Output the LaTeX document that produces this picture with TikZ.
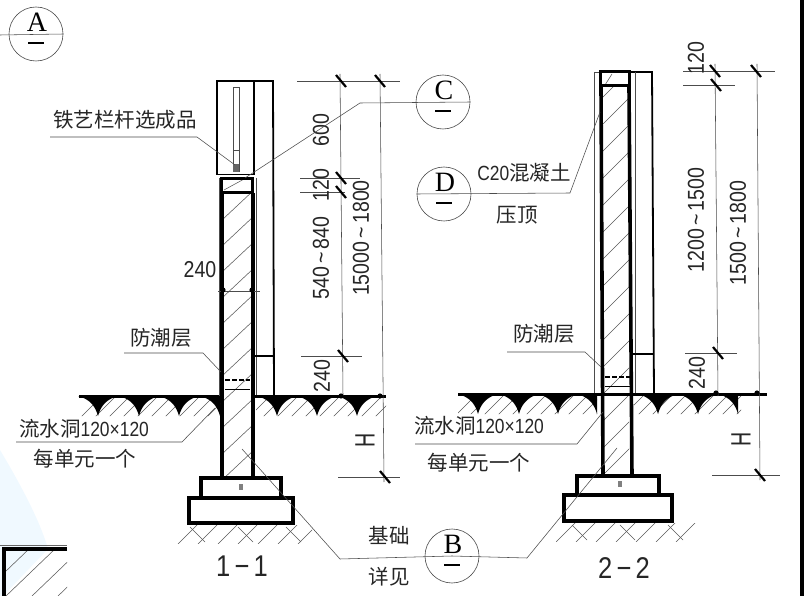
\documentclass[tikz,border=0pt]{standalone}
\usepackage{fontspec}
\setmainfont{Liberation Serif}
\newfontfamily\cjk{Noto Sans CJK SC}[Scale=1]
\newfontfamily\narrowf{Liberation Sans}
\usetikzlibrary{calc}
\newcommand{\dg}[1]{\scalebox{0.85}[1]{\narrowf #1}}
\newcommand{\bigH}{\scalebox{0.7}[1]{\narrowf\fontsize{28}{28}\selectfont H}}
\newcommand{\spikeat}[2]{\fill[black] ({#1-20},#2) .. controls ({#1-9},{#2+3}) and ({#1-3},{#2+9}) .. (#1,{#2+20}) .. controls ({#1+3},{#2+9}) and ({#1+9},{#2+3}) .. ({#1+20},#2) -- cycle;}
\newcommand{\halfspikeL}[2]{\fill[black] ({#1-20},#2) .. controls ({#1-9},{#2+3}) and ({#1-3},{#2+9}) .. (#1,{#2+20}) -- (#1,#2) -- cycle;}
\newcommand{\tick}[2]{\draw[tickln] ({#1-5},{#2-6}) -- ({#1+5},{#2+6});}
\begin{document}
\begin{tikzpicture}[x=1pt,y=-1pt,
  thin line/.style={line width=0.55pt,black!70},
  med line/.style={line width=1.8pt,black},
  thick line/.style={line width=3.6pt,black},
  tickln/.style={line width=2.2pt,black},
  hatch/.style={line width=0.55pt,black!65},
  cn/.style={font=\cjk\fontsize{20.5}{22}\selectfont,text=black!85,inner sep=0pt},
  num/.style={font=\fontsize{23}{24}\selectfont,text=black!85,inner sep=0pt},
  vnum/.style={num,rotate=90},
  bubble/.style={circle,draw=black!70,line width=0.6pt,minimum size=54pt,inner sep=0pt},
  letter/.style={font=\fontsize{28}{28}\selectfont,inner sep=0pt}]
\useasboundingbox (0,0) rectangle (804,596);
\fill[white] (0,0) rectangle (804,596);
% tinted paper patch
\fill[blue!35!cyan,opacity=0.06] (0,450) .. controls (18,480) and (40,520) .. (48,549) -- (3,596) -- (0,596) -- cycle;
% right page edge
\fill[black] (800,0) rectangle (804,596);

% ===== section 1-1 =====
\draw[med line] (217,175) -- (217,81) -- (273,81) -- (274,396);
\draw[med line] (254,81) -- (254,175);
\draw[line width=1pt,black] (217,175) -- (254,175);
\draw[line width=0.7pt,black!70] (233,87) rectangle (239,150);
\draw[line width=0.7pt,black!70] (233,150) -- (233,172) (239,150) -- (239,172);
\fill[black!60] (233,164) rectangle (239,172);
\draw[thin line] (219,178) -- (219,396) (256,178) -- (256,396);
\begin{scope}
\clip (224,193) rectangle (252,478);
\foreach \y in {220,246,...,510}{\draw[hatch] (222,\y) -- (254,{\y-30});}
\end{scope}
\draw[hatch] (224,190) -- (246,178);
\draw[thick line] (222,193) -- (222,478) (253,193) -- (253,478);
\draw[line width=3pt] (221,179) rectangle (252,193);
\draw[med line,dashed,dash pattern=on 5pt off 2pt] (225,380) -- (250,380);
\draw[line width=0.8pt] (225,389) -- (250,389);
\draw[line width=1.6pt] (254,356) -- (274,356);
% ground 1-1
\begin{scope}
\clip (80,396) rectangle (220,416) (256,396) rectangle (386,416);
\foreach \x in {80,94,...,390}{\draw[hatch] (\x,418) -- ({\x+22},396);}
\end{scope}
\foreach \x in {98,139,179,277,317,357}{\spikeat{\x}{396}}
\halfspikeL{220}{396}
\draw[line width=3pt] (79,396) -- (219,396) (255,396) -- (386,396);
% footing 1-1
\draw[line width=3.4pt,fill=white] (201,478) rectangle (281,498);
\draw[line width=3.4pt,fill=white] (189,498) rectangle (293,523);
\fill[black!50] (239,484) rectangle (243,490);
% soil 1-1
\begin{scope}
\clip (176,525) rectangle (312,543);
\foreach \x in {178,198,...,300}{\draw[hatch] (\x,544) -- ({\x+22},522);}
\foreach \x in {190,238,286}{\draw[hatch] (\x,527) -- ({\x+15},542);}
\end{scope}
\node[num,font=\fontsize{30}{30}\selectfont] (t11) at (242,566) {\dg{1\,−\,1}};

% ===== section 2-2 =====
\draw[med line] (629,72) -- (652,72) -- (654,394);
\draw[thin line] (594,72) -- (594,394) (635,72) -- (635,394) (594,72) -- (600,72);
\begin{scope}
\clip (603,87) rectangle (629,476);
\foreach \y in {100,127,...,500}{\draw[hatch] (600,\y) -- (632,{\y-32});}
\end{scope}
\draw[hatch] (605,85) -- (612,74);
\draw[thick line] (601,87) -- (603,476) (629,87) -- (632,476);
\draw[line width=3pt] (600,72) rectangle (629,86);
\draw[med line,dashed,dash pattern=on 5pt off 2pt] (605,377) -- (630,377);
\draw[line width=0.8pt] (605,386) -- (630,386);
\draw[line width=1.6pt] (633,354) -- (654,354);
% ground 2-2
\begin{scope}
\clip (458,394) rectangle (597,414) (634,394) rectangle (741,414);
\foreach \x in {455,469,...,745}{\draw[hatch] (\x,416) -- ({\x+22},394);}
\end{scope}
\foreach \x in {478,519,558,658,698}{\spikeat{\x}{394}}
\halfspikeL{597}{394}
\halfspikeL{738}{394}
\draw[line width=3pt] (458,394) -- (767,394);
% footing 2-2
\draw[line width=3.4pt,fill=white] (577,476) rectangle (659,495);
\draw[line width=3.4pt,fill=white] (564,495) rectangle (672,521);
\fill[black!50] (618,481) rectangle (622,487);
% soil 2-2
\begin{scope}
\clip (556,523) rectangle (696,541);
\foreach \x in {556,576,...,680}{\draw[hatch] (\x,542) -- ({\x+22},520);}
\foreach \x in {572,620,668}{\draw[hatch] (\x,525) -- ({\x+15},540);}
\end{scope}
\node[num,font=\fontsize{30}{30}\selectfont] (t22) at (624,568) {\dg{2\,−\,2}};

% ===== dimension lines 1-1 =====
\draw[thin line] (297,81) -- (400,81) (300,178) -- (360,178) (300,192) -- (345,192) (301,356) -- (362,356) (338,477) -- (400,477);
\draw[thin line] (340,74) -- (343,396) (380,74) -- (384,482);
\tick{341}{81}\tick{380}{81}\tick{341}{178}\tick{341}{192}\tick{343}{356}\tick{385}{477}
\fill (341,396) circle (2.6pt) (380,396) circle (2.6pt);
\node[vnum] (d600) at (321,130) {\dg{600}};
\node[vnum] (d120a) at (321,185) {\dg{120}};
\node[vnum] (d540) at (321,258) {\dg{540\,\textasciitilde\,840}};
\node[vnum] (d15) at (361,238) {\dg{15000\,\textasciitilde\,1800}};
\node[vnum] (d240a) at (322,376) {\dg{240}};
\node[vnum] (dHa) at (365,440) {\bigH};
% 240 width dim
\draw[thin line] (218,291) -- (260,291) (219,285) -- (219,300);
\fill (223,290) circle (2.6pt) (252,290) circle (2.6pt);
\node[num] (w240) at (200,270) {\dg{240}};

% ===== dimension lines 2-2 =====
\draw[thin line] (683,71) -- (775,71) (683,85) -- (735,85) (685,353) -- (737,353) (712,475) -- (780,475);
\draw[thin line] (715,64) -- (718,396) (757,64) -- (760,480);
\tick{715}{71}\tick{756}{71}\tick{716}{85}\tick{718}{353}\tick{760}{475}
\fill (716,393) circle (2.6pt) (757,393) circle (2.6pt);
\node[vnum] (d120b) at (696,58) {\dg{120}};
\node[vnum] (d1200) at (696,220) {\dg{1200\,\textasciitilde\,1500}};
\node[vnum] (d1500) at (738,233) {\dg{1500\,\textasciitilde\,1800}};
\node[vnum] (d240b) at (697,373) {\dg{240}};
\node[vnum] (dHb) at (741,439) {\bigH};

% ===== bubbles =====
\node[bubble] (A) at (36,34) {};
\node[bubble] (C) at (443,102) {};
\node[bubble] (D) at (444,194) {};
\node[bubble] (B) at (452,556) {};
\foreach \n/\t in {A/A,C/C,D/D,B/B}{
  \node[letter] at ($(\n.center)+(1,-12)$) {\t};
  \draw[line width=1.5pt] ($(\n.center)+(-8,9)$) -- ($(\n.center)+(8,9)$);
}
\draw[thin line] (0,35) -- (A.east);

% ===== labels and leaders =====
\coordinate (pA) at (235,165);
\coordinate (pC) at (245,178);
\coordinate (pD) at (600,112);
\coordinate (pDamp1) at (221,372);
\coordinate (pDamp2) at (601,367);
\coordinate (pHole1) at (215,408);
\coordinate (pHole2) at (603,412);
\coordinate (pB1) at (242,449);
\coordinate (pB2) at (617,448);
\node[cn] (rail) at (125,120) {铁艺栏杆选成品};
\draw[thin line] (50,137) -- (197,137) -- (pA);
\draw[thin line] (pC) -- (360,103) -- (C.east);
\node[cn] (c20) at (524,173) {\dg{C20}混凝土};
\node[cn] (cap) at (517,215) {压顶};
\draw[thin line] (D.west) -- (570,193) -- (pD);
\node[cn] (damp1) at (161,338) {防潮层};
\draw[thin line] (124,353) -- (203,353) -- (pDamp1);
\node[cn] (damp2) at (544,334) {防潮层};
\draw[thin line] (507,352) -- (585,352) -- (pDamp2);
\node[cn] (hole1) at (84,429) {流水洞\dg{120×120}};
\node[cn] (each1) at (85,459) {每单元一个};
\draw[thin line] (16,442) -- (182,442) -- (pHole1);
\node[cn] (hole2) at (479,426) {流水洞\dg{120×120}};
\node[cn] (each2) at (479,463) {每单元一个};
\draw[thin line] (415,444) -- (577,444) -- (pHole2);
\node[cn] (found1) at (389,536) {基础};
\node[cn] (found2) at (389,577) {详见};
\draw[thin line] (pB1) -- (340,559) -- (B.center);
\draw[thin line] (B.center) -- (527,558) -- (pB2);

% ===== corner inset =====
\draw[line width=0.5pt,black!60] (0,545) -- (67,545);
\begin{scope}
\clip (5,550) rectangle (67,596);
\foreach \x in {-20,6,32,58}{\draw[hatch] (\x,596) -- ({\x+50},548);}
\end{scope}
\draw[line width=3.4pt] (67,549) -- (4,549) -- (4,596);
\end{tikzpicture}
\end{document}
